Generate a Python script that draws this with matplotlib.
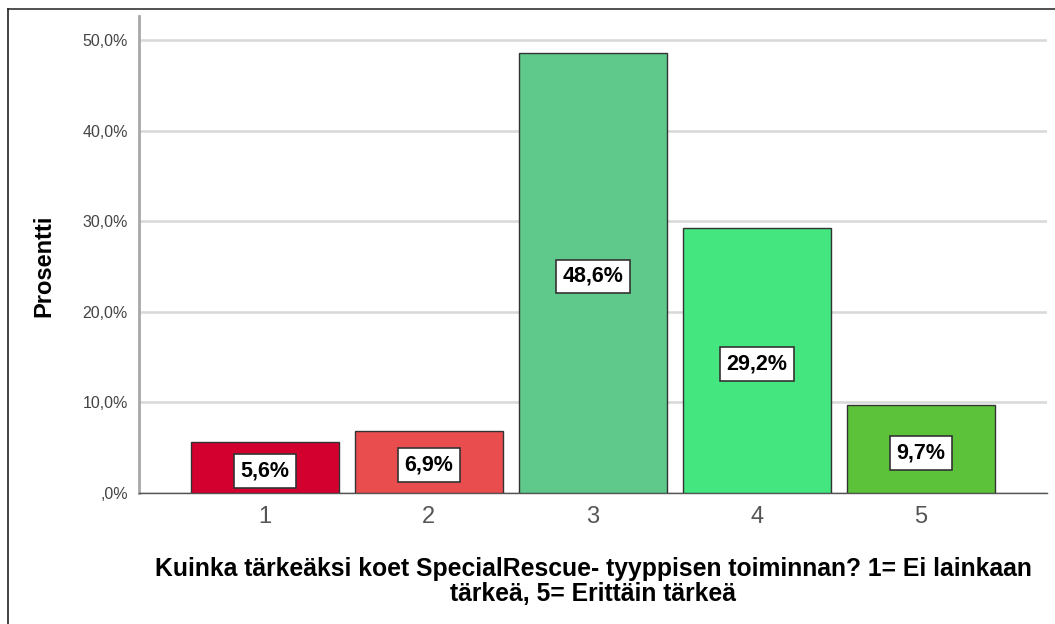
import matplotlib.pyplot as plt
from matplotlib.lines import Line2D

plt.rcParams['font.family'] = ['Liberation Sans', 'DejaVu Sans']

# data
categories = ['1', '2', '3', '4', '5']
percents = [5.6, 6.9, 48.6, 29.2, 9.7]
bar_colors = ['#d3002f', '#ea4d4d', '#5ec98a', '#43e67f', '#5cc23a']
y_ticks = [0, 10, 20, 30, 40, 50]
y_tick_labels = [',0%', '10,0%', '20,0%', '30,0%', '40,0%', '50,0%']

fig = plt.figure(figsize=(10.55, 6.24), dpi=100)
ax = fig.add_axes([0.1318, 0.2099, 0.8606, 0.7645])

x = list(range(1, len(categories) + 1))
ax.bar(x, percents, width=0.9, color=bar_colors, edgecolor='#333333', linewidth=1.0, zorder=3)

# value labels in white boxes, a bit below the bar middle
for xi, v in zip(x, percents):
    ax.text(xi, v / 2 - 0.4, ('%.1f%%' % v).replace('.', ','), ha='center', va='center',
            fontsize=15.5, fontweight='bold', color='black', zorder=4,
            bbox=dict(boxstyle='square,pad=0.3', facecolor='white', edgecolor='#333333', linewidth=1.2))

ax.set_xlim(0.232, 5.77)
ax.set_ylim(0, 52.65)
ax.set_xticks(x)
ax.set_xticklabels(categories, fontsize=17, color='#555555')
ax.set_yticks(y_ticks)
ax.set_yticklabels(y_tick_labels, fontsize=11.5, color='#444444')
ax.tick_params(axis='both', length=0)
ax.tick_params(axis='x', pad=9)
ax.tick_params(axis='y', pad=8)

ax.yaxis.grid(True, color='#d8d8d8', linewidth=1.8, zorder=0)
ax.set_axisbelow(True)

for s in ['top', 'right']:
    ax.spines[s].set_visible(False)
ax.spines['left'].set_color('#a8a8a8')
ax.spines['left'].set_linewidth(2)
ax.spines['bottom'].set_color('#555555')
ax.spines['bottom'].set_linewidth(1)

ax.set_ylabel('Prosentti', fontsize=17, fontweight='bold', color='black')
ax.yaxis.set_label_coords(-0.0925, 0.477)
ax.set_xlabel('Kuinka tärkeäksi koet SpecialRescue- tyyppisen toiminnan? 1= Ei lainkaan\ntärkeä, 5= Erittäin tärkeä',
              fontsize=17.8, fontweight='bold', color='black', linespacing=1.05)
ax.xaxis.set_label_coords(0.5, -0.135)
ax.xaxis.label.set_va('top')

# outer frame lines (top and left)
fig.add_artist(Line2D([8 / 1055, 1.0], [1 - 9 / 624, 1 - 9 / 624], color='#333333', linewidth=1.2))
fig.add_artist(Line2D([8 / 1055, 8 / 1055], [0, 1 - 9 / 624], color='#222222', linewidth=1.2))

fig.savefig('out.png', dpi=100)
